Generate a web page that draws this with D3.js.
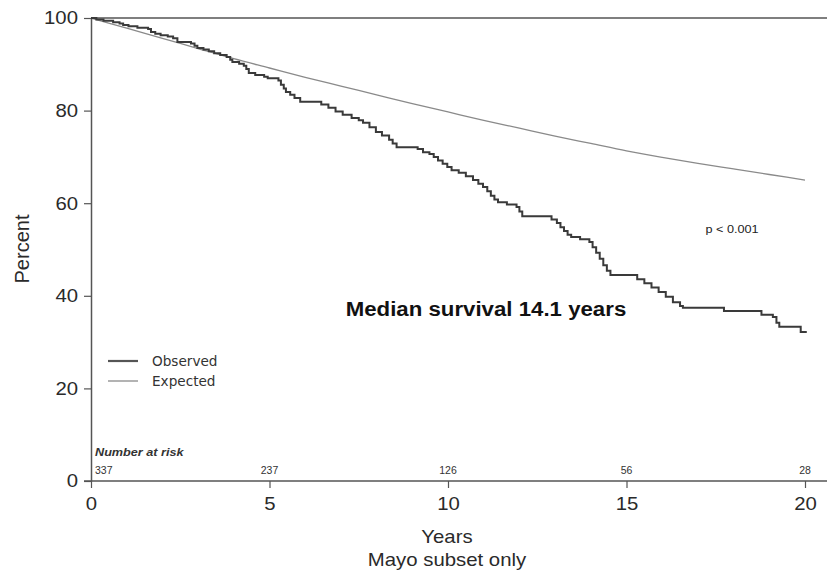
<!DOCTYPE html>
<html>
<head>
<meta charset="utf-8">
<script src="https://cdn.jsdelivr.net/npm/d3@7/dist/d3.min.js"></script>
<style>
  body { margin: 0; background: #fff; }
  svg { display: block; font-family: "Liberation Sans", Arial, Helvetica, sans-serif; }
</style>
</head>
<body>
<svg id="chart" width="827" height="570"></svg>
<script>
// Observed Kaplan-Meier steps: event times (years) and survival (%) after each event
const obsTimes = [0, 0.15, 0.35, 0.62, 0.80, 0.90, 1.05, 1.30, 1.60, 1.68, 1.80, 1.95, 2.15, 2.30, 2.42,
  2.80, 2.90, 2.98, 3.15, 3.30, 3.45, 3.62, 3.80, 3.90, 3.96, 4.15, 4.28, 4.35, 4.42, 4.60, 4.85, 4.95,
  5.25, 5.32, 5.40, 5.46, 5.58, 5.70, 5.86, 6.45, 6.65, 6.85, 7.05, 7.30, 7.50, 7.62, 7.80, 7.98, 8.15,
  8.35, 8.45, 8.56, 9.15, 9.30, 9.48, 9.60, 9.72, 9.85, 9.98, 10.10, 10.30, 10.50, 10.70, 10.85, 10.98,
  11.10, 11.20, 11.30, 11.40, 11.65, 11.92, 12.00, 12.08, 12.90, 13.05, 13.15, 13.25, 13.35, 13.45,
  13.70, 13.96, 14.05, 14.15, 14.25, 14.35, 14.45, 14.55, 15.30, 15.50, 15.70, 15.90, 16.10, 16.30,
  16.50, 16.58, 17.73, 18.78, 19.10, 19.20, 19.28, 19.88, 20.05];
const obsSurv = [100, 99.7, 99.4, 99.1, 98.8, 98.5, 98.2, 97.9, 97.6, 97.0, 96.6, 96.3, 96.0, 95.6, 94.8,
  94.5, 94.0, 93.5, 93.2, 92.8, 92.4, 92.0, 91.6, 91.0, 90.5, 90.1, 89.7, 89.0, 88.1, 87.7, 87.3, 87.0,
  86.5, 85.6, 84.8, 84.0, 83.4, 82.7, 81.9, 81.3, 80.6, 79.8, 79.1, 78.4, 77.9, 77.4, 76.4, 75.4, 74.6,
  73.7, 72.9, 72.1, 71.7, 71.0, 70.6, 70.0, 69.2, 68.5, 67.8, 67.1, 66.6, 65.8, 65.0, 64.2, 63.5,
  62.6, 61.6, 60.8, 60.2, 59.7, 59.2, 58.2, 57.2, 56.5, 55.7, 54.8, 54.0, 53.2, 52.7,
  52.2, 51.6, 50.5, 49.3, 48.0, 46.6, 45.4, 44.5, 43.6, 42.7, 41.8, 40.8, 39.8, 38.6,
  37.8, 37.4, 36.7, 35.9, 35.4, 34.2, 33.3, 32.2, 32.2];

// Expected survival curve (yearly)
const expTimes = [0, 1, 2, 3, 4, 5, 6, 7, 8, 9, 10, 11, 12, 13, 14, 15, 16, 17, 18, 19, 20];
const expSurv = [100, 97.8, 95.6, 93.4, 91.2, 89.2, 87.2, 85.3, 83.4, 81.5, 79.7, 77.9, 76.2, 74.5, 72.9,
  71.3, 69.9, 68.6, 67.4, 66.2, 65.0];

const xTicks = [0, 5, 10, 15, 20];
const yTicks = [0, 20, 40, 60, 80, 100];
const riskTimes = [0, 5, 10, 15, 20];
const riskCounts = ["337", "237", "126", "56", "28"];
const seriesNames = ["Observed", "Expected"];

const svg = d3.select("#chart");
const x = d3.scaleLinear().domain([0, 20]).range([91, 805]);
const y = d3.scaleLinear().domain([0, 100]).range([481, 18]);
const axisColor = "#555";
const textColor = "#2a2a2a";

// stretch text horizontally (reference glyphs are slightly wide)
function stretch(sel, f) {
  sel.each(function () {
    const w = this.getComputedTextLength();
    d3.select(this).attr("textLength", w * f).attr("lengthAdjust", "spacingAndGlyphs");
  });
}

// top border line
svg.append("line").attr("x1", 91).attr("x2", 827).attr("y1", y(100)).attr("y2", y(100))
  .attr("stroke", axisColor).attr("stroke-width", 1.5);

// y axis
const yAxis = svg.append("g").attr("transform", "translate(91,0)")
  .call(d3.axisLeft(y).tickValues(yTicks).tickSize(7).tickPadding(6).tickSizeOuter(0));
yAxis.select(".domain").attr("stroke", axisColor).attr("stroke-width", 1.5);
yAxis.selectAll(".tick line").attr("stroke", axisColor).attr("stroke-width", 1.2);
yAxis.selectAll(".tick text").attr("font-size", 18.5).attr("fill", textColor)
  .attr("font-family", "Liberation Sans, Arial, sans-serif");
stretch(yAxis.selectAll(".tick text"), 1.1);

// x axis
const xAxis = svg.append("g").attr("transform", "translate(0,481)")
  .call(d3.axisBottom(x).tickValues(xTicks).tickSize(7).tickPadding(9).tickSizeOuter(0));
xAxis.select(".domain").attr("stroke", axisColor).attr("stroke-width", 1.5)
  .attr("d", "M84,0H827");
xAxis.selectAll(".tick line").attr("stroke", axisColor).attr("stroke-width", 1.2);
xAxis.selectAll(".tick text").attr("font-size", 18.5).attr("fill", textColor)
  .attr("font-family", "Liberation Sans, Arial, sans-serif");
stretch(xAxis.selectAll(".tick text"), 1.1);

// expected curve
const expData = expTimes.map((t, i) => [t, expSurv[i]]);
svg.append("path").datum(expData)
  .attr("d", d3.line().x(d => x(d[0])).y(d => y(d[1])).curve(d3.curveMonotoneX))
  .attr("fill", "none").attr("stroke", "#8a8a8a").attr("stroke-width", 1.3);

// observed step curve
const obsData = obsTimes.map((t, i) => [t, obsSurv[i]]);
svg.append("path").datum(obsData)
  .attr("d", d3.line().x(d => x(d[0])).y(d => y(d[1])).curve(d3.curveStepAfter))
  .attr("fill", "none").attr("stroke", "#3a3a3a").attr("stroke-width", 2);

// legend
const legend = svg.append("g");
const legColors = ["#555", "#9a9a9a"];
const legWidths = [2.2, 1.5];
seriesNames.forEach((name, i) => {
  const ly = 361 + i * 20;
  legend.append("line").attr("x1", 108).attr("x2", 138).attr("y1", ly).attr("y2", ly)
    .attr("stroke", legColors[i]).attr("stroke-width", legWidths[i]);
  const t = legend.append("text").attr("x", 152).attr("y", ly + 5).text(name)
    .attr("font-size", 13.5).attr("fill", "#333")
    .attr("font-family", "DejaVu Sans Condensed, DejaVu Sans, sans-serif");
  stretch(t, 1.12);
});

// number at risk
const nar = svg.append("text").attr("x", 95).attr("y", 456).text("Number at risk")
  .attr("font-size", 11).attr("font-style", "italic").attr("font-weight", "bold")
  .attr("fill", "#333").attr("font-family", "Liberation Sans Narrow, Liberation Sans, Arial, sans-serif");
stretch(nar, 1.15);
riskTimes.forEach((t, i) => {
  svg.append("text").attr("x", i === 0 ? 95 : x(t)).attr("y", 474)
    .attr("text-anchor", i === 0 ? "start" : "middle")
    .text(riskCounts[i]).attr("font-size", 10.5).attr("fill", "#333")
    .attr("font-family", "Liberation Sans Narrow, Liberation Sans, Arial, sans-serif");
});

// axis titles
const yt = svg.append("text").attr("x", 447).attr("y", 543).attr("text-anchor", "middle")
  .text("Years").attr("font-size", 18.5).attr("fill", textColor);
stretch(yt, 1.1);
const mt = svg.append("text").attr("x", 447).attr("y", 566).attr("text-anchor", "middle")
  .text("Mayo subset only").attr("font-size", 18.5).attr("fill", textColor);
stretch(mt, 1.1);
svg.append("text").attr("transform", "translate(29,249) rotate(-90)").attr("text-anchor", "middle")
  .text("Percent").attr("font-size", 20).attr("fill", textColor);

// annotations
const med = svg.append("text").attr("x", 486).attr("y", 316).attr("text-anchor", "middle")
  .text("Median survival 14.1 years").attr("font-size", 19.5).attr("font-weight", "bold").attr("fill", "#111");
stretch(med, 1.14);
const pv = svg.append("text").attr("x", 732).attr("y", 233).attr("text-anchor", "middle")
  .text("p < 0.001").attr("font-size", 11.5).attr("fill", "#222");
stretch(pv, 1.1);
</script>
</body>
</html>
